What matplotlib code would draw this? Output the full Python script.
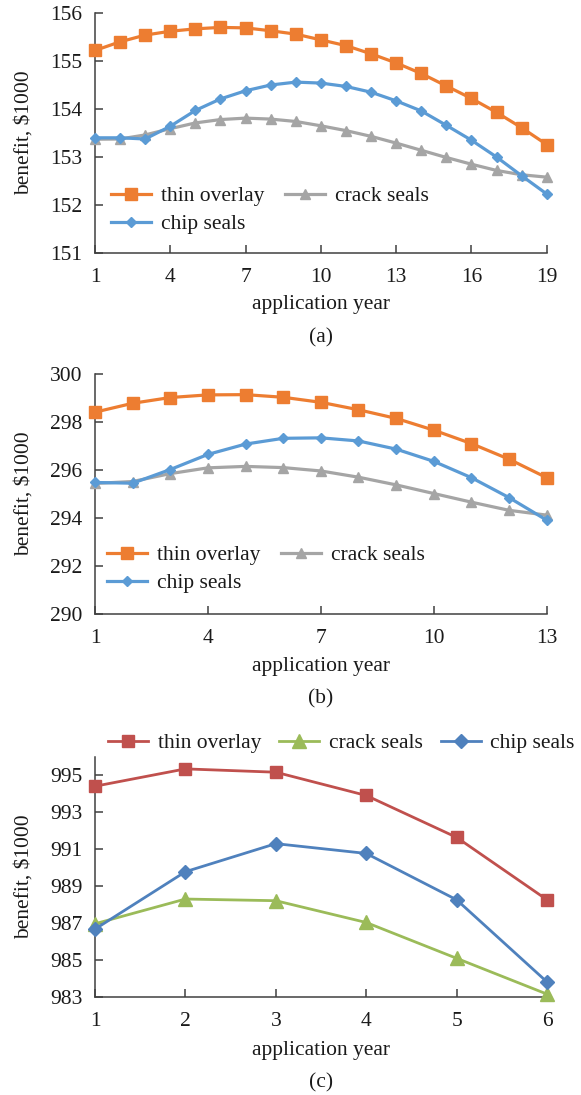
import matplotlib
matplotlib.use("Agg")
import matplotlib.pyplot as plt

plt.rcParams['font.family'] = ['Liberation Serif', 'DejaVu Serif']
plt.rcParams['mathtext.default'] = 'regular'

# ---------------- data ----------------
years_a = list(range(1, 20))
thin_a = [155.22, 155.40, 155.54, 155.62, 155.67, 155.70, 155.69, 155.63, 155.56, 155.44,
          155.32, 155.15, 154.96, 154.74, 154.48, 154.22, 153.93, 153.61, 153.26]
chip_a = [153.40, 153.40, 153.375, 153.64, 153.97, 154.21, 154.38, 154.50, 154.56, 154.54,
          154.47, 154.35, 154.17, 153.96, 153.66, 153.35, 153.00, 152.61, 152.23]
crack_a = [153.37, 153.375, 153.46, 153.59, 153.71, 153.78, 153.81, 153.79, 153.74, 153.65,
           153.55, 153.43, 153.29, 153.14, 152.99, 152.85, 152.72, 152.63, 152.58]

years_b = list(range(1, 14))
thin_b = [298.41, 298.78, 299.02, 299.13, 299.14, 299.03, 298.82, 298.51, 298.15, 297.66,
          297.10, 296.45, 295.68]
chip_b = [295.48, 295.45, 296.02, 296.65, 297.08, 297.32, 297.34, 297.21, 296.87, 296.36,
          295.68, 294.85, 293.91]
crack_b = [295.44, 295.52, 295.85, 296.09, 296.15, 296.10, 295.96, 295.70, 295.38, 295.02,
           294.66, 294.32, 294.12]

years_c = list(range(1, 7))
thin_c = [994.40, 995.34, 995.16, 993.90, 991.63, 988.25]
crack_c = [986.95, 988.29, 988.20, 987.02, 985.08, 983.14]
chip_c = [986.66, 989.77, 991.29, 990.76, 988.25, 983.80]

xticks_a = [1, 4, 7, 10, 13, 16, 19]
yticks_a = [151, 152, 153, 154, 155, 156]
xticks_b = [1, 4, 7, 10, 13]
yticks_b = [290, 292, 294, 296, 298, 300]
xticks_c = [1, 2, 3, 4, 5, 6]
yticks_c = [983, 985, 987, 989, 991, 993, 995]

labels = ["thin overlay", "chip seals", "crack seals"]
xlabel = "application year"
ylabel = "benefit, \\$1000"
captions = ["(a)", "(b)", "(c)"]

# ---------------- layout ----------------
W, H = 581, 1095
fig = plt.figure(figsize=(W / 100, H / 100), dpi=100)
FS = 15.5
TXT = '#1a1a1a'
SPINE = '#404040'


def add_ax(left, right, top, bottom):
    return fig.add_axes([left / W, 1 - bottom / H, (right - left) / W, (bottom - top) / H])


def style(ax, xt, yt, xlim, ylim):
    ax.set_xlim(*xlim)
    ax.set_ylim(*ylim)
    ax.set_xticks(xt)
    ax.set_yticks(yt)
    for s in ['top', 'right']:
        ax.spines[s].set_visible(False)
    for s in ['left', 'bottom']:
        ax.spines[s].set_color(SPINE)
        ax.spines[s].set_linewidth(1.1)
    ax.tick_params(axis='both', direction='in', length=5.5, width=1.1, color=SPINE,
                   labelsize=FS, labelcolor=TXT)
    ax.tick_params(axis='x', pad=11)
    ax.tick_params(axis='y', pad=9)
    ax.patch.set_alpha(0)


OR, GR, BL = '#ED7D31', '#A5A5A5', '#5B9BD5'
RD, GN, BL2 = '#C0504D', '#9BBB59', '#4F81BD'

panels = [
    (13, 253, years_a, thin_a, chip_a, crack_a, xticks_a, yticks_a, (1, 19), (151, 156)),
    (374, 614, years_b, thin_b, chip_b, crack_b, xticks_b, yticks_b, (1, 13), (290, 300)),
]

for i, (top, bot, yrs, th, ch, cr, xt, yt, xl, yl) in enumerate(panels):
    ax = add_ax(95, 546.7, top, bot)
    style(ax, xt, yt, xl, yl)
    l1, = ax.plot(yrs, th, color=OR, lw=2.3, marker='s', ms=8, clip_on=False, zorder=3)
    l3, = ax.plot(yrs, cr, color=GR, lw=2.3, marker='^', ms=7, clip_on=False, zorder=3)
    l2, = ax.plot(yrs, ch, color=BL, lw=2.3, marker='D', ms=5, clip_on=False, zorder=4)
    leg_top = 186 if i == 0 else 545
    leg_left = 111 if i == 0 else 107
    ax.legend([l1, l2, l3], labels, ncol=2, loc='upper left',
              bbox_to_anchor=(leg_left / W, 1 - leg_top / H), bbox_transform=fig.transFigure,
              frameon=False, fontsize=FS, borderpad=0, borderaxespad=0,
              handlelength=1.85, handletextpad=0.45, labelspacing=0.38, columnspacing=1.0,
              labelcolor=TXT)
    fig.text(24 / W, 1 - ((top + bot) / 2) / H, ylabel, rotation=90, ha='center', va='center',
             fontsize=FS, color=TXT)

# panel c
ax = add_ax(95, 547, 756.7, 996.7)
style(ax, xticks_c, yticks_c, (1, 6), (983, 996))
l1, = ax.plot(years_c, thin_c, color=RD, lw=2.0, marker='s', ms=8.5, clip_on=False, zorder=3)
l3, = ax.plot(years_c, crack_c, color=GN, lw=2.0, marker='^', ms=10, clip_on=False, zorder=3)
l2, = ax.plot(years_c, chip_c, color=BL2, lw=2.0, marker='D', ms=7.5, clip_on=False, zorder=4)
ax.legend([l1, l3, l2], [labels[0], labels[2], labels[1]], ncol=3, loc='upper left',
          bbox_to_anchor=(108 / W, 1 - 733 / H), bbox_transform=fig.transFigure,
          frameon=False, fontsize=FS, borderpad=0, borderaxespad=0,
          handlelength=1.85, handletextpad=0.45, columnspacing=0.85, labelcolor=TXT)
fig.text(24 / W, 1 - ((756.7 + 996.7) / 2) / H, ylabel, rotation=90, ha='center', va='center',
         fontsize=FS, color=TXT)

# x labels and captions
for ylab in [305, 667, 1051]:
    fig.text(321 / W, 1 - ylab / H, xlabel, ha='center', va='center', fontsize=FS, color=TXT)
for cap, ycap in zip(captions, [338, 699, 1083]):
    fig.text(321 / W, 1 - ycap / H, cap, ha='center', va='center', fontsize=FS, color=TXT)

fig.savefig("out.png", dpi=100)
